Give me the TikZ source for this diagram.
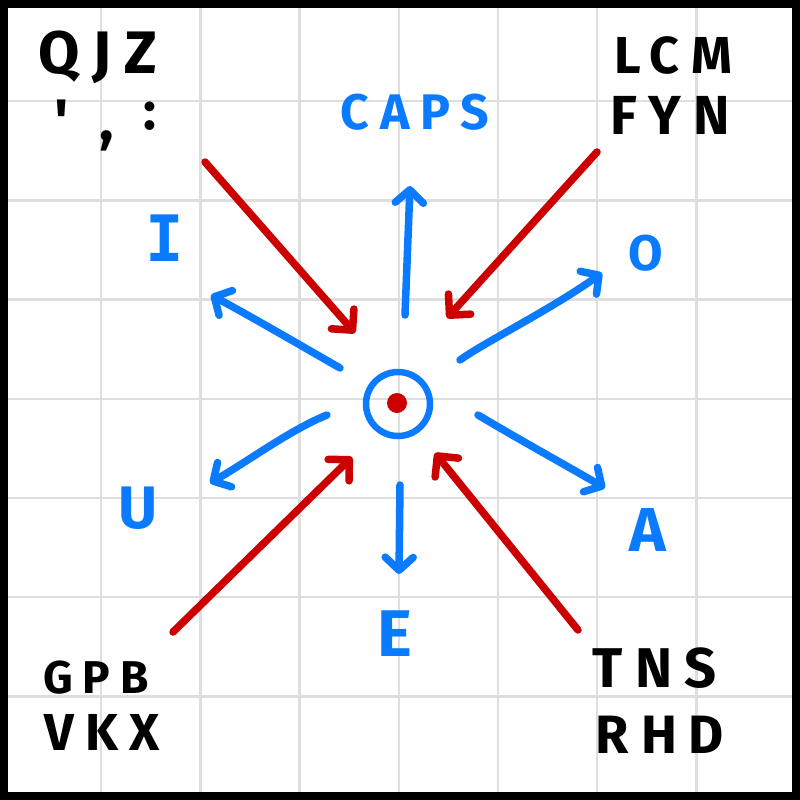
\documentclass[tikz,border=0pt]{standalone}
\usepackage{fontspec}
\setmainfont{Fira Sans}
\newfontfamily\hand[LetterSpace=22]{Fira Sans}
\newfontfamily\handmono{DejaVu Sans Mono}
\usetikzlibrary{arrows.meta}
\definecolor{pblue}{RGB}{10,122,255}
\definecolor{pred}{RGB}{204,0,0}
\definecolor{gridc}{RGB}{222,222,222}
\begin{document}
\begin{tikzpicture}[x=1pt,y=-1pt,
  lbl/.style={inner sep=0pt,font=\hand\bfseries\fontsize{#1}{#1}\selectfont},
  blk/.style={lbl=#1,text=black},
  bl/.style={lbl=#1,text=pblue},
  redarr/.style={draw=pred,line width=7.5pt,line cap=round,line join=round,
    -{Straight Barb[length=15pt,width=30pt,line cap=round,line join=round]}},
  bluearr/.style={draw=pblue,line width=7.5pt,line cap=round,line join=round,
    -{Straight Barb[length=13pt,width=28pt,line cap=round,line join=round]}},
  gridline/.style={draw=gridc,line width=2.5pt}]
\useasboundingbox (0,0) rectangle (800,800);
\fill[white] (0,0) rectangle (800,800);
% grid
\foreach \v in {101.2,200.4,299.6,398.8,498,597.2,696.4}{
  \draw[gridline] (\v,4) -- (\v,796);
  \draw[gridline] (4,\v) -- (796,\v);
}
% frame
\draw[line width=8pt] (4,4.5) rectangle (795.5,796);

% centre
\node[circle,draw=pblue,line width=6.5pt,minimum size=64pt,inner sep=0pt] (ring) at (398,404) {};
\node[circle,fill=pred,minimum size=20pt,inner sep=0pt] (dot) at (397,403) {};

% labels
\node[blk=60] (qjz) at (98,57) {QJZ};
\node[blk=60] (ap) at (62,121) {'};
\node[blk=60] (cm) at (107,141) {,};
\node[blk=54] (co) at (150,116) {:};
\node[blk=52] (lcm) at (673,55) {LCM};
\node[blk=55] (fyn) at (670,115) {FYN};
\node[bl=50] (caps) at (415,112) {CAPS};
\node[inner sep=0pt,text=pblue,font=\handmono\bfseries\fontsize{64}{64}\selectfont] (i) at (165,238) {I};
\node[bl=50] (o) at (646,253) {O};
\node[bl=60] (u) at (138,508) {U};
\node[bl=62] (a) at (648,530) {A};
\node[bl=66] (e) at (395,634) {E};
\node[blk=46] (gpb) at (96,678) {GPB};
\node[blk=52] (vkx) at (102,732) {VKX};
\node[blk=56] (tns) at (655,668) {TNS};
\node[blk=54] (rhd) at (660,735) {RHD};

% connector ends
\coordinate (r1s) at (205,162); \coordinate (r1e) at (355,333);
\coordinate (r2s) at (597,152); \coordinate (r2e) at (447,318);
\coordinate (r3s) at (173,632); \coordinate (r3e) at (352,457);
\coordinate (r4s) at (578,630); \coordinate (r4e) at (435,453);
\coordinate (bus) at (405,315); \coordinate (bue) at (410,186);
\coordinate (bis) at (340,368); \coordinate (bie) at (211,295);
\coordinate (bos) at (460,360); \coordinate (boe) at (602,273);
\coordinate (bUs) at (327,415); \coordinate (bUe) at (210,483);
\coordinate (bas) at (478,415); \coordinate (bae) at (605,488);
\coordinate (bds) at (400,485); \coordinate (bde) at (399,574);

% red arrows
\draw[redarr] (r1s) -- (r1e);
\draw[redarr] (r2s) -- (r2e);
\draw[redarr] (r3s) -- (r3e);
\draw[redarr] (r4s) -- (r4e);

% blue arrows
\draw[bluearr] (bus) -- (bue);
\draw[bluearr] (bis) .. controls (300,345) and (250,316) .. (bie);
\draw[bluearr] (bos) .. controls (485,342) and (550,310) .. (boe);
\draw[bluearr] (bUs) .. controls (290,430) and (250,460) .. (bUe);
\draw[bluearr] (bas) .. controls (520,440) and (560,462) .. (bae);
\draw[bluearr] (bds) -- (bde);
\end{tikzpicture}
\end{document}
